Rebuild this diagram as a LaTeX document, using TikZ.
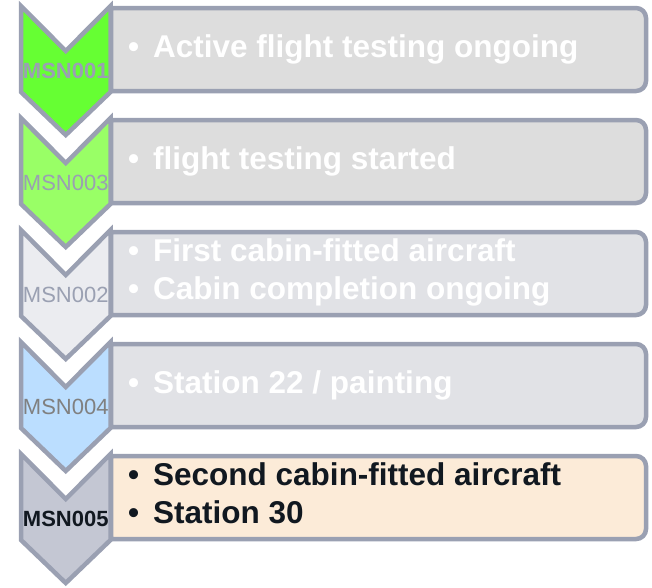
\documentclass[tikz,border=0pt]{standalone}
\usepackage{fontspec}
\setmainfont{Liberation Sans}
\usepackage{xcolor}
\usepackage{tikz}

\definecolor{edgegray}{HTML}{9AA0B2}
\definecolor{chevA}{HTML}{66FF33}
\definecolor{chevB}{HTML}{99FF66}
\definecolor{chevC}{HTML}{EBECF0}
\definecolor{chevD}{HTML}{BBDEFF}
\definecolor{chevE}{HTML}{C4C7D3}
\definecolor{boxgray}{HTML}{DDDDDD}
\definecolor{boxpale}{HTML}{E1E2E6}
\definecolor{boxpeach}{HTML}{FCEBD8}
\definecolor{inkdark}{HTML}{111820}
\definecolor{labgray}{HTML}{808080}

\tikzset{
  chev/.style={draw=edgegray,line width=4.5pt,line join=miter},
  notebox/.style={draw=edgegray,line width=4.5pt},
  msnlab/.style={font=\fontsize{22}{24}\selectfont,inner sep=0pt,anchor=base},
  item/.style={font=\fontsize{31.5}{36}\selectfont\bfseries,inner sep=0pt,anchor=base west},
}

\begin{document}
\begin{tikzpicture}[x=1pt,y=1pt]
  \useasboundingbox (0,0) rectangle (652,-587);
  % Boxes (square left side, round right side) and chevrons
  \foreach \t/\cfill/\bfill in {6/chevA/boxgray, 118/chevB/boxgray, 230/chevC/boxpale,
                                 342/chevD/boxpale, 454/chevE/boxpeach} {
    \draw[notebox,fill=\bfill] (111,-\t-2) -- (636,-\t-2)
      arc[start angle=90,end angle=0,radius=10pt] -- (646,-\t-75)
      arc[start angle=0,end angle=-90,radius=10pt] -- (111,-\t-85) -- cycle;
    \draw[chev,fill=\cfill] (21,-\t) -- (65.75,-\t-45) -- (110.5,-\t) -- (110.5,-\t-86)
      -- (65.75,-\t-129) -- (21,-\t-86) -- cycle;
  }
  % Chevron labels
  \node[msnlab,text=edgegray,font=\fontsize{22}{24}\selectfont\bfseries] (msn1) at (65.75,-78.5) {MSN001};
  \node[msnlab,text=edgegray] (msn3) at (65.75,-190.5) {MSN003};
  \node[msnlab,text=edgegray] (msn2) at (65.75,-302.5) {MSN002};
  \node[msnlab,text=labgray] (msn4) at (65.75,-414.5) {MSN004};
  \node[msnlab,text=inkdark,font=\fontsize{22}{24}\selectfont\bfseries] (msn5) at (65.75,-526.5) {MSN005};
  % Box texts
  \node[item,text=white] (act) at (128,-57) {\makebox[25pt][l]{•}Active flight testing ongoing};
  \node[item,text=white] (fts) at (128,-169) {\makebox[25pt][l]{•}flight testing started};
  \node[item,text=white] (fca) at (128,-261.5) {\makebox[25pt][l]{•}First cabin-fitted aircraft};
  \node[item,text=white] (cco) at (128,-299.5) {\makebox[25pt][l]{•}Cabin completion ongoing};
  \node[item,text=white] (s22) at (128,-393) {\makebox[25pt][l]{•}Station 22 / painting};
  \node[item,text=inkdark] (sca) at (128,-485.5) {\makebox[25pt][l]{•}Second cabin-fitted aircraft};
  \node[item,text=inkdark] (s30) at (128,-523.5) {\makebox[25pt][l]{•}Station 30};
\end{tikzpicture}
\end{document}
